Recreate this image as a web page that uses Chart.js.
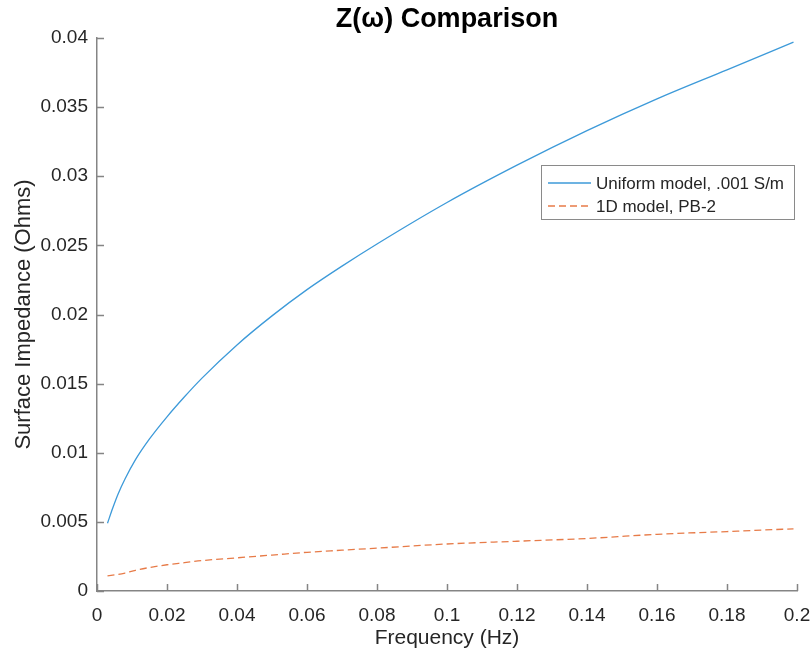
<!DOCTYPE html>
<html>
<head>
<meta charset="utf-8">
<title>Z(ω) Comparison</title>
<script src="https://cdn.jsdelivr.net/npm/chart.js@4.4.1/dist/chart.umd.min.js"></script>
<style>
  html, body { margin: 0; padding: 0; background: #fff; }
  #wrap { width: 812px; height: 655px; }
</style>
</head>
<body>
<div id="wrap"><canvas id="grafico"></canvas></div>
<script>
// dados
const freq = [0.003, 0.0045, 0.006, 0.008, 0.011, 0.015, 0.02, 0.025, 0.03, 0.04, 0.05, 0.06, 0.07, 0.08, 0.10, 0.12, 0.14, 0.16, 0.18, 0.199];
const zUniforme = [0.0049, 0.0060, 0.0070, 0.0081, 0.0095, 0.0110, 0.0126, 0.01405, 0.0154, 0.0178, 0.0199, 0.0218, 0.0235, 0.0251, 0.0281, 0.0308, 0.0333, 0.0356, 0.0377, 0.0397];
const z1D = [0.0011, 0.00115, 0.0012, 0.0013, 0.0015, 0.0017, 0.0019, 0.00205, 0.0022, 0.0024, 0.0026, 0.0028, 0.00295, 0.0031, 0.0034, 0.0036, 0.0038, 0.0041, 0.0043, 0.0045];
const nomesSeries = ['Uniform model, .001 S/m', '1D model, PB-2'];
const xTicks = [0, 0.02, 0.04, 0.06, 0.08, 0.1, 0.12, 0.14, 0.16, 0.18, 0.2];
const yTicks = [0, 0.005, 0.01, 0.015, 0.02, 0.025, 0.03, 0.035, 0.04];
const titulo = 'Z(ω) Comparison';

const fonte = '"Liberation Sans", Arial, Helvetica, sans-serif';
const corTexto = '#262626';
const corEixo = '#858585';

// título centrado sobre a área do gráfico (como no MATLAB)
const tituloCentrado = {
    id: 'tituloCentrado',
    afterDraw(chart) {
        const { ctx, chartArea } = chart;
        ctx.save();
        ctx.font = 'bold 27px ' + fonte;
        ctx.fillStyle = '#000';
        ctx.textAlign = 'center';
        ctx.textBaseline = 'middle';
        ctx.fillText(titulo, (chartArea.left + chartArea.right) / 2, 20);
        ctx.restore();
    }
};

// marcas dos eixos para dentro
const marcasInternas = {
    id: 'marcasInternas',
    afterDatasetsDraw(chart) {
        const { ctx, chartArea, scales: { x, y } } = chart;
        ctx.save();
        ctx.strokeStyle = corEixo;
        ctx.lineWidth = 1.5;
        ctx.beginPath();
        x.ticks.forEach(t => {
            const px = Math.round(x.getPixelForValue(t.value)) + 0.5;
            ctx.moveTo(px, chartArea.bottom);
            ctx.lineTo(px, chartArea.bottom - 7);
        });
        y.ticks.forEach(t => {
            const py = Math.round(y.getPixelForValue(t.value)) + 0.5;
            ctx.moveTo(chartArea.left, py);
            ctx.lineTo(chartArea.left + 7, py);
        });
        ctx.stroke();
        ctx.restore();
    }
};

// legenda dentro da área do gráfico
const legendaInterna = {
    id: 'legendaInterna',
    afterDraw(chart) {
        const { ctx } = chart;
        const caixa = { x: 541.5, y: 165.5, w: 253, h: 54 };
        ctx.save();
        ctx.fillStyle = '#fff';
        ctx.fillRect(caixa.x, caixa.y, caixa.w, caixa.h);
        ctx.strokeStyle = '#8a8a8a';
        ctx.lineWidth = 1;
        ctx.strokeRect(caixa.x, caixa.y, caixa.w, caixa.h);
        ctx.font = '17px ' + fonte;
        ctx.textBaseline = 'middle';
        ctx.textAlign = 'left';
        chart.data.datasets.forEach((ds, i) => {
            const yy = caixa.y + 17.5 + i * 23;
            ctx.strokeStyle = ds.borderColor;
            ctx.lineWidth = ds.borderWidth;
            ctx.setLineDash(ds.borderDash || []);
            ctx.beginPath();
            ctx.moveTo(548, yy);
            ctx.lineTo(591, yy);
            ctx.stroke();
            ctx.setLineDash([]);
            ctx.fillStyle = corTexto;
            ctx.fillText(ds.label, 596, yy + 1);
        });
        ctx.restore();
    }
};

const ctx = document.getElementById('grafico').getContext('2d');
new Chart(ctx, {
    type: 'line',
    data: {
        datasets: [
            {
                label: nomesSeries[0],
                data: freq.map((f, i) => ({ x: f, y: zUniforme[i] })),
                borderColor: '#3d9ad9',
                borderWidth: 1.3,
                pointRadius: 0,
                cubicInterpolationMode: 'monotone'
            },
            {
                label: nomesSeries[1],
                data: freq.map((f, i) => ({ x: f, y: z1D[i] })),
                borderColor: '#e77b48',
                borderWidth: 1.3,
                borderDash: [7, 4],
                pointRadius: 0,
                cubicInterpolationMode: 'monotone'
            }
        ]
    },
    options: {
        responsive: true,
        maintainAspectRatio: false,
        animation: false,
        layout: { padding: { left: 0, right: 15, top: 38, bottom: 0 } },
        plugins: {
            legend: { display: false },
            tooltip: { enabled: false },
            title: { display: false }
        },
        scales: {
            x: {
                type: 'linear',
                min: 0,
                max: 0.2,
                afterBuildTicks: s => { s.ticks = xTicks.map(v => ({ value: v })); },
                afterFit: s => { s.height = 64; s.paddingLeft = 0; s.paddingRight = 0; },
                grid: { display: false, drawTicks: false },
                border: { display: true, color: corEixo, width: 1.5 },
                ticks: {
                    color: corTexto,
                    padding: 13,
                    maxRotation: 0,
                    font: { family: fonte, size: 19 },
                    callback: v => String(+v.toFixed(3))
                },
                title: {
                    display: true,
                    text: 'Frequency (Hz)',
                    color: corTexto,
                    font: { family: fonte, size: 21 },
                    padding: { top: 0, bottom: 4 }
                }
            },
            y: {
                min: 0,
                max: 0.04,
                afterBuildTicks: s => { s.ticks = yTicks.map(v => ({ value: v })); },
                afterFit: s => { s.width = 97; s.paddingTop = 0; s.paddingBottom = 0; },
                grid: { display: false, drawTicks: false },
                border: { display: true, color: corEixo, width: 1.5 },
                ticks: {
                    color: corTexto,
                    padding: 9,
                    font: { family: fonte, size: 19 },
                    callback: v => String(+v.toFixed(4))
                },
                title: {
                    display: true,
                    text: 'Surface Impedance (Ohms)',
                    color: corTexto,
                    font: { family: fonte, size: 22 },
                    padding: { top: 11, bottom: 0 }
                }
            }
        }
    },
    plugins: [marcasInternas, legendaInterna, tituloCentrado]
});
</script>
</body>
</html>
